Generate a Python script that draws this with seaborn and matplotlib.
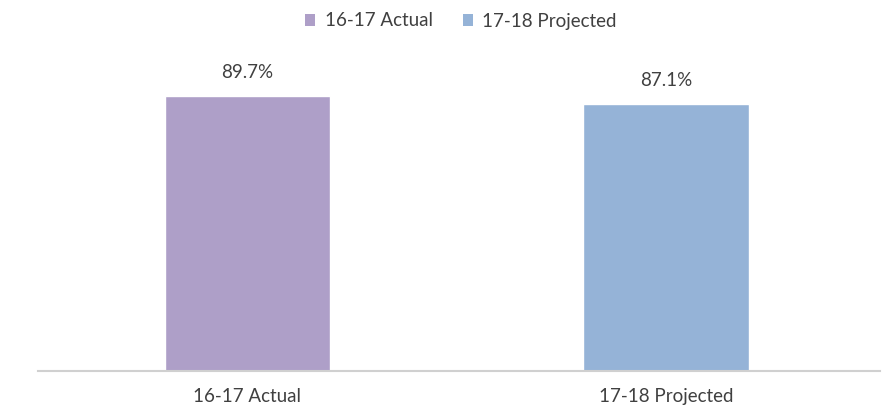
import matplotlib
matplotlib.use("Agg")
import matplotlib.pyplot as plt
import seaborn as sns
import pandas as pd
from matplotlib.patches import Patch

categories = ["16-17 Actual", "17-18 Projected"]
values = [89.7, 87.1]
labels = ["89.7%", "87.1%"]
colors = ["#AE9FC8", "#95B3D7"]

sns.set_theme(style="white")
plt.rcParams['font.family'] = ['Lato', 'DejaVu Sans']

df = pd.DataFrame({"cat": categories, "val": values})

fig = plt.figure(figsize=(8.91, 4.08), dpi=100)
ax = fig.add_axes([38/891, 37/408, (880-38)/891, (371-64.4)/408])
sns.barplot(data=df, x="cat", y="val", hue="cat", palette=colors, width=0.396,
            legend=False, ax=ax, saturation=1)

for p, lab in zip(ax.patches, labels):
    ax.text(p.get_x() + p.get_width()/2, p.get_height() + 5, lab,
            ha="center", va="bottom", fontsize=13.5, color="#404040")

ax.set_ylim(0, 100)
ax.set_xlim(-0.5, 1.51)
ax.set_xlabel("")
ax.set_ylabel("")
ax.set_yticks([])
for s in ["top", "right", "left"]:
    ax.spines[s].set_visible(False)
ax.spines["bottom"].set_color("#D0D0D0")
ax.spines["bottom"].set_linewidth(1.5)
ax.tick_params(axis="x", length=0, pad=12, labelsize=13.5, labelcolor="#404040")

handles = [Patch(facecolor=c, edgecolor="none") for c in colors]
fig.legend(handles, categories, loc="center", bbox_to_anchor=(461/891, 1 - 21/408),
           ncol=2, frameon=False, fontsize=13.5, handlelength=0.55, handleheight=0.55,
           handletextpad=0.5, columnspacing=1.6, labelcolor="#404040")

fig.savefig("out.png", dpi=100)
